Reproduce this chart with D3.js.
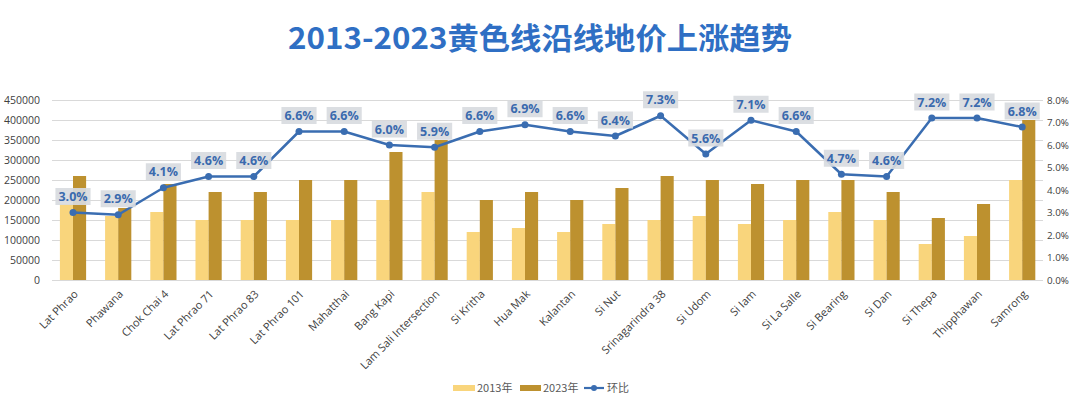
<!DOCTYPE html>
<html><head><meta charset="utf-8">
<script src="https://cdn.jsdelivr.net/npm/d3@7/dist/d3.min.js"></script>
<style>
html,body{margin:0;padding:0;background:#fff;}
svg{display:block;}
</style></head>
<body>
<svg id="chart" width="1072" height="402"></svg>
<script>
const categories = ["Lat Phrao","Phawana","Chok Chai 4","Lat Phrao 71","Lat Phrao 83","Lat Phrao 101","Mahatthai","Bang Kapi","Lam Sali Intersection","Si Kritha","Hua Mak","Kalantan","Si Nut","Srinagarindra 38","Si Udom","Si Iam","Si La Salle","Si Bearing","Si Dan","Si Thepa","Thipphawan","Samrong"];
const values2013 = [190000,160000,170000,150000,150000,150000,150000,200000,220000,120000,130000,120000,140000,150000,160000,140000,150000,170000,150000,90000,110000,250000];
const values2023 = [260000,180000,240000,220000,220000,250000,250000,320000,350000,200000,220000,200000,230000,260000,250000,240000,250000,250000,220000,155000,190000,400000];
const growth = [3.0,2.9,4.1,4.6,4.6,6.6,6.6,6.0,5.9,6.6,6.9,6.6,6.4,7.3,5.6,7.1,6.6,4.7,4.6,7.2,7.2,6.8];
const leftTicks = [0,50000,100000,150000,200000,250000,300000,350000,400000,450000];
const rightTicks = [0,1,2,3,4,5,6,7,8];
const seriesNames = ["2013年","2023年","环比"];
const title = "2013-2023黄色线沿线地价上涨趋势";

const C13 = "#f9d57c", C23 = "#bd912f", CL = "#3a6db1";
const svg = d3.select("#chart");
const plotTop = 100, plotBottom = 280, plotLeft = 52, plotRight = 1043;

svg.append("text").attr("x", 540).attr("y", 49).attr("text-anchor","middle")
  .attr("font-family","'Noto Sans CJK SC', sans-serif").attr("font-weight","bold")
  .attr("font-size", 30).attr("fill", "#2f6fc4")
  .attr("textLength", 504).attr("lengthAdjust","spacingAndGlyphs").text(title);

const x = d3.scaleBand().domain(categories).range([50.4, 1044.8]).paddingInner(0.42).paddingOuter(0.21);
const xs = d3.scaleBand().domain([0,1]).range([0, x.bandwidth()]);
const yL = d3.scaleLinear().domain([0,450000]).range([plotBottom, plotTop]);
const yR = d3.scaleLinear().domain([0,8]).range([plotBottom, plotTop]);

// gridlines
svg.append("g").selectAll("line").data(leftTicks).join("line")
  .attr("x1", plotLeft).attr("x2", plotRight).attr("y1", d=>yL(d)+0.5).attr("y2", d=>yL(d)+0.5)
  .attr("stroke", "#d9d9d9").attr("stroke-width", 1);

// left axis
const axL = d3.axisLeft(yL).tickValues(leftTicks).tickSize(0).tickPadding(0).tickFormat(d3.format("d"));
const gL = svg.append("g").attr("transform","translate(40,0)").call(axL);
gL.select(".domain").remove();
gL.selectAll("text").attr("font-family","'Open Sans', sans-serif").attr("font-size",10.5).attr("fill","#404040");

// right axis
const axR = d3.axisRight(yR).tickValues(rightTicks).tickSize(0).tickPadding(0).tickFormat(d=>d.toFixed(1)+"%");
const gR = svg.append("g").attr("transform","translate(1047,0)").call(axR);
gR.select(".domain").remove();
gR.selectAll("text").attr("font-family","'Open Sans', sans-serif").attr("font-size",9.8).attr("fill","#404040");

// bars
const g = svg.append("g");
g.selectAll("rect.b13").data(categories).join("rect").attr("class","b13")
  .attr("x", d=>x(d)+xs(0)).attr("width", xs.bandwidth())
  .attr("y", (d,i)=>yL(values2013[i])).attr("height", (d,i)=>yL(0)-yL(values2013[i])).attr("fill", C13);
g.selectAll("rect.b23").data(categories).join("rect").attr("class","b23")
  .attr("x", d=>x(d)+xs(1)).attr("width", xs.bandwidth())
  .attr("y", (d,i)=>yL(values2023[i])).attr("height", (d,i)=>yL(0)-yL(values2023[i])).attr("fill", C23);

// x labels
const axB = d3.axisBottom(x).tickSize(0).tickPadding(0);
const gB = svg.append("g").attr("transform","translate(0,"+plotBottom+")").call(axB);
gB.select(".domain").remove();
gB.selectAll("text").attr("font-family","'Open Sans', sans-serif").attr("font-size",11).attr("fill","#404040")
  .attr("text-anchor","end").attr("dy","0.35em")
  .attr("transform","translate(3,12) rotate(-45)").attr("y",0).attr("x",0);

// line
const cx = d => x(d) + x.bandwidth()/2;
const line = d3.line().x((d,i)=>cx(categories[i])).y(d=>yR(d));
svg.append("path").datum(growth).attr("d", line).attr("fill","none").attr("stroke",CL).attr("stroke-width",2.5).attr("stroke-linejoin","round");
svg.append("g").selectAll("circle").data(growth).join("circle")
  .attr("cx",(d,i)=>cx(categories[i])).attr("cy",d=>yR(d)).attr("r",3.5).attr("fill",CL);

// data labels
const lg = svg.append("g");
growth.forEach((v,i)=>{
  const px = cx(categories[i]), py = yR(v) - 16;
  const r = lg.append("rect").attr("fill","#d8dbe0").attr("opacity",0.92);
  const t = lg.append("text").attr("x",px).attr("y",py).attr("dy","0.36em").attr("text-anchor","middle")
    .attr("font-family","'Open Sans', sans-serif").attr("font-weight","bold").attr("font-size",12.5)
    .attr("fill","#3a6aae").text(v.toFixed(1)+"%");
  const bb = t.node().getBBox();
  r.attr("x", bb.x-3).attr("y", py-8.5).attr("width", bb.width+6).attr("height", 17);
});

// legend
const leg = svg.append("g").attr("font-family","'Noto Sans CJK SC', sans-serif").attr("font-size",11).attr("fill","#595959");
leg.append("rect").attr("x",453).attr("y",385).attr("width",22).attr("height",6).attr("fill",C13);
leg.append("text").attr("x",477).attr("y",388).attr("dy","0.35em").text(seriesNames[0]);
leg.append("rect").attr("x",520).attr("y",385).attr("width",21).attr("height",6).attr("fill",C23);
leg.append("text").attr("x",543).attr("y",388).attr("dy","0.35em").text(seriesNames[1]);
leg.append("line").attr("x1",584).attr("x2",604).attr("y1",388).attr("y2",388).attr("stroke",CL).attr("stroke-width",2.2);
leg.append("circle").attr("cx",594).attr("cy",388).attr("r",3).attr("fill",CL);
leg.append("text").attr("x",607).attr("y",388).attr("dy","0.35em").text(seriesNames[2]);
</script>
</body></html>
